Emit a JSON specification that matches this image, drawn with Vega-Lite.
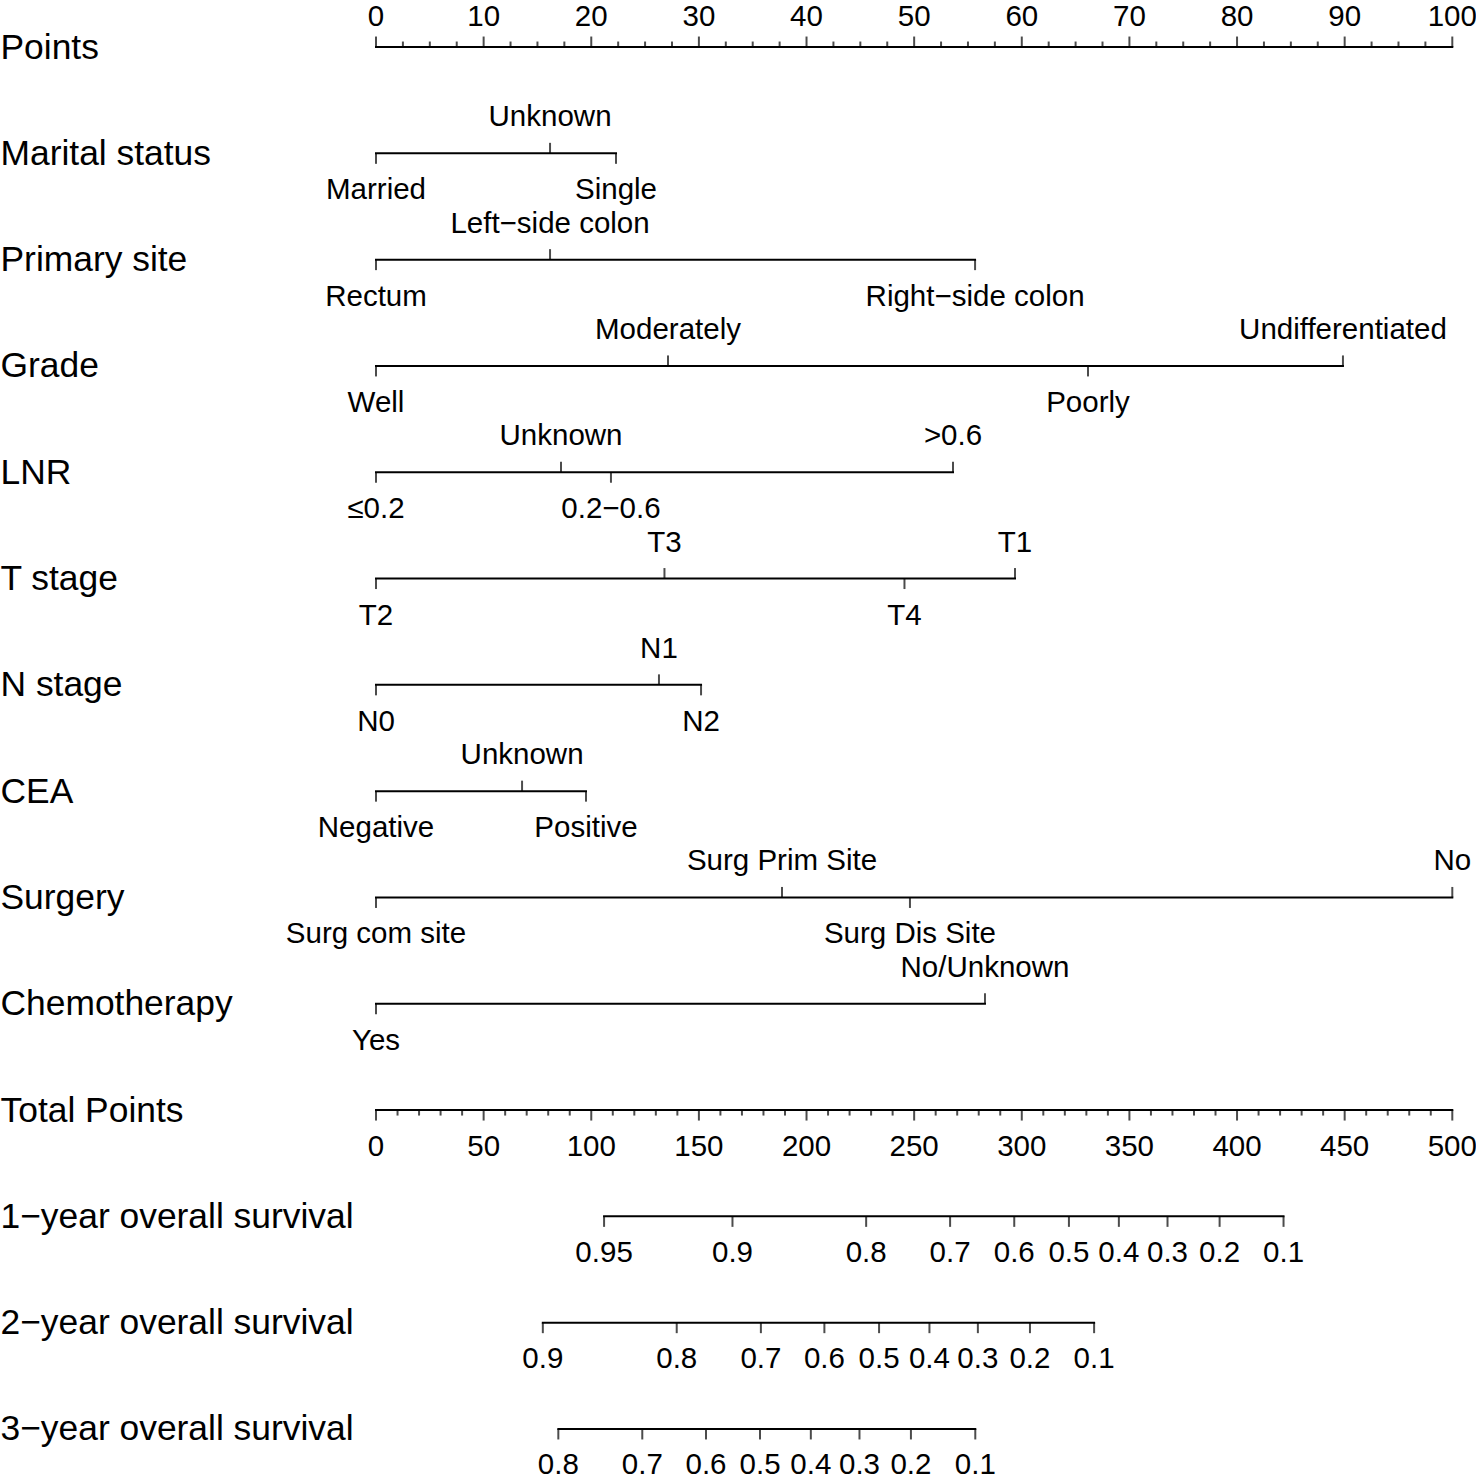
{
  "$schema": "https://vega.github.io/schema/vega-lite/v6.json",
  "width": 1476,
  "height": 1476,
  "autosize": {"type": "none"},
  "padding": 0,
  "background": "white",
  "config": {
    "view": {"stroke": null},
    "text": {"font": "Liberation Sans", "fontSize": 29.5, "color": "black"},
    "tick": {"color": "black"},
    "rule": {"color": "black"}
  },
  "datasets": {
    "cat": [
      {"var": "Marital status", "level": "Married", "pts": 0, "side": "below"},
      {"var": "Marital status", "level": "Unknown", "pts": 16.17, "side": "above"},
      {"var": "Marital status", "level": "Single", "pts": 22.3, "side": "below"},
      {"var": "Primary site", "level": "Rectum", "pts": 0, "side": "below"},
      {"var": "Primary site", "level": "Left−side colon", "pts": 16.17, "side": "above"},
      {"var": "Primary site", "level": "Right−side colon", "pts": 55.66, "side": "below"},
      {"var": "Grade", "level": "Well", "pts": 0, "side": "below"},
      {"var": "Grade", "level": "Moderately", "pts": 27.13, "side": "above"},
      {"var": "Grade", "level": "Poorly", "pts": 66.15, "side": "below"},
      {"var": "Grade", "level": "Undifferentiated", "pts": 89.84, "side": "above"},
      {"var": "LNR", "level": "≤0.2", "pts": 0, "side": "below"},
      {"var": "LNR", "level": "Unknown", "pts": 17.19, "side": "above"},
      {"var": "LNR", "level": "0.2−0.6", "pts": 21.83, "side": "below"},
      {"var": "LNR", "level": ">0.6", "pts": 53.61, "side": "above"},
      {"var": "T stage", "level": "T2", "pts": 0, "side": "below"},
      {"var": "T stage", "level": "T3", "pts": 26.8, "side": "above"},
      {"var": "T stage", "level": "T4", "pts": 49.1, "side": "below"},
      {"var": "T stage", "level": "T1", "pts": 59.37, "side": "above"},
      {"var": "N stage", "level": "N0", "pts": 0, "side": "below"},
      {"var": "N stage", "level": "N1", "pts": 26.29, "side": "above"},
      {"var": "N stage", "level": "N2", "pts": 30.2, "side": "below"},
      {"var": "CEA", "level": "Negative", "pts": 0, "side": "below"},
      {"var": "CEA", "level": "Unknown", "pts": 13.57, "side": "above"},
      {"var": "CEA", "level": "Positive", "pts": 19.51, "side": "below"},
      {"var": "Surgery", "level": "Surg com site", "pts": 0, "side": "below"},
      {"var": "Surgery", "level": "Surg Prim Site", "pts": 37.72, "side": "above"},
      {"var": "Surgery", "level": "Surg Dis Site", "pts": 49.61, "side": "below"},
      {"var": "Surgery", "level": "No", "pts": 100, "side": "above"},
      {"var": "Chemotherapy", "level": "Yes", "pts": 0, "side": "below"},
      {"var": "Chemotherapy", "level": "No/Unknown", "pts": 56.58, "side": "above"}
    ],
    "ptsAxis": [
      {"var": "Points", "pts": 0, "major": true}, {"var": "Points", "pts": 2.5, "major": false}, {"var": "Points", "pts": 5, "major": false}, {"var": "Points", "pts": 7.5, "major": false},
      {"var": "Points", "pts": 10, "major": true}, {"var": "Points", "pts": 12.5, "major": false}, {"var": "Points", "pts": 15, "major": false}, {"var": "Points", "pts": 17.5, "major": false},
      {"var": "Points", "pts": 20, "major": true}, {"var": "Points", "pts": 22.5, "major": false}, {"var": "Points", "pts": 25, "major": false}, {"var": "Points", "pts": 27.5, "major": false},
      {"var": "Points", "pts": 30, "major": true}, {"var": "Points", "pts": 32.5, "major": false}, {"var": "Points", "pts": 35, "major": false}, {"var": "Points", "pts": 37.5, "major": false},
      {"var": "Points", "pts": 40, "major": true}, {"var": "Points", "pts": 42.5, "major": false}, {"var": "Points", "pts": 45, "major": false}, {"var": "Points", "pts": 47.5, "major": false},
      {"var": "Points", "pts": 50, "major": true}, {"var": "Points", "pts": 52.5, "major": false}, {"var": "Points", "pts": 55, "major": false}, {"var": "Points", "pts": 57.5, "major": false},
      {"var": "Points", "pts": 60, "major": true}, {"var": "Points", "pts": 62.5, "major": false}, {"var": "Points", "pts": 65, "major": false}, {"var": "Points", "pts": 67.5, "major": false},
      {"var": "Points", "pts": 70, "major": true}, {"var": "Points", "pts": 72.5, "major": false}, {"var": "Points", "pts": 75, "major": false}, {"var": "Points", "pts": 77.5, "major": false},
      {"var": "Points", "pts": 80, "major": true}, {"var": "Points", "pts": 82.5, "major": false}, {"var": "Points", "pts": 85, "major": false}, {"var": "Points", "pts": 87.5, "major": false},
      {"var": "Points", "pts": 90, "major": true}, {"var": "Points", "pts": 92.5, "major": false}, {"var": "Points", "pts": 95, "major": false}, {"var": "Points", "pts": 97.5, "major": false},
      {"var": "Points", "pts": 100, "major": true}
    ],
    "totAxis": [
      {"var": "Total Points", "total": 0, "major": true}, {"var": "Total Points", "total": 10, "major": false}, {"var": "Total Points", "total": 20, "major": false}, {"var": "Total Points", "total": 30, "major": false}, {"var": "Total Points", "total": 40, "major": false},
      {"var": "Total Points", "total": 50, "major": true}, {"var": "Total Points", "total": 60, "major": false}, {"var": "Total Points", "total": 70, "major": false}, {"var": "Total Points", "total": 80, "major": false}, {"var": "Total Points", "total": 90, "major": false},
      {"var": "Total Points", "total": 100, "major": true}, {"var": "Total Points", "total": 110, "major": false}, {"var": "Total Points", "total": 120, "major": false}, {"var": "Total Points", "total": 130, "major": false}, {"var": "Total Points", "total": 140, "major": false},
      {"var": "Total Points", "total": 150, "major": true}, {"var": "Total Points", "total": 160, "major": false}, {"var": "Total Points", "total": 170, "major": false}, {"var": "Total Points", "total": 180, "major": false}, {"var": "Total Points", "total": 190, "major": false},
      {"var": "Total Points", "total": 200, "major": true}, {"var": "Total Points", "total": 210, "major": false}, {"var": "Total Points", "total": 220, "major": false}, {"var": "Total Points", "total": 230, "major": false}, {"var": "Total Points", "total": 240, "major": false},
      {"var": "Total Points", "total": 250, "major": true}, {"var": "Total Points", "total": 260, "major": false}, {"var": "Total Points", "total": 270, "major": false}, {"var": "Total Points", "total": 280, "major": false}, {"var": "Total Points", "total": 290, "major": false},
      {"var": "Total Points", "total": 300, "major": true}, {"var": "Total Points", "total": 310, "major": false}, {"var": "Total Points", "total": 320, "major": false}, {"var": "Total Points", "total": 330, "major": false}, {"var": "Total Points", "total": 340, "major": false},
      {"var": "Total Points", "total": 350, "major": true}, {"var": "Total Points", "total": 360, "major": false}, {"var": "Total Points", "total": 370, "major": false}, {"var": "Total Points", "total": 380, "major": false}, {"var": "Total Points", "total": 390, "major": false},
      {"var": "Total Points", "total": 400, "major": true}, {"var": "Total Points", "total": 410, "major": false}, {"var": "Total Points", "total": 420, "major": false}, {"var": "Total Points", "total": 430, "major": false}, {"var": "Total Points", "total": 440, "major": false},
      {"var": "Total Points", "total": 450, "major": true}, {"var": "Total Points", "total": 460, "major": false}, {"var": "Total Points", "total": 470, "major": false}, {"var": "Total Points", "total": 480, "major": false}, {"var": "Total Points", "total": 490, "major": false},
      {"var": "Total Points", "total": 500, "major": true}
    ],
    "surv": [
      {"var": "1−year overall survival", "lab": "0.95", "total": 105.95},
      {"var": "1−year overall survival", "lab": "0.9", "total": 165.6},
      {"var": "1−year overall survival", "lab": "0.8", "total": 227.7},
      {"var": "1−year overall survival", "lab": "0.7", "total": 266.7},
      {"var": "1−year overall survival", "lab": "0.6", "total": 296.5},
      {"var": "1−year overall survival", "lab": "0.5", "total": 321.9},
      {"var": "1−year overall survival", "lab": "0.4", "total": 345.1},
      {"var": "1−year overall survival", "lab": "0.3", "total": 367.7},
      {"var": "1−year overall survival", "lab": "0.2", "total": 391.9},
      {"var": "1−year overall survival", "lab": "0.1", "total": 421.6},
      {"var": "2−year overall survival", "lab": "0.9", "total": 77.5},
      {"var": "2−year overall survival", "lab": "0.8", "total": 139.7},
      {"var": "2−year overall survival", "lab": "0.7", "total": 178.8},
      {"var": "2−year overall survival", "lab": "0.6", "total": 208.3},
      {"var": "2−year overall survival", "lab": "0.5", "total": 233.7},
      {"var": "2−year overall survival", "lab": "0.4", "total": 257.1},
      {"var": "2−year overall survival", "lab": "0.3", "total": 279.6},
      {"var": "2−year overall survival", "lab": "0.2", "total": 303.8},
      {"var": "2−year overall survival", "lab": "0.1", "total": 333.6},
      {"var": "3−year overall survival", "lab": "0.8", "total": 84.7},
      {"var": "3−year overall survival", "lab": "0.7", "total": 123.7},
      {"var": "3−year overall survival", "lab": "0.6", "total": 153.3},
      {"var": "3−year overall survival", "lab": "0.5", "total": 178.4},
      {"var": "3−year overall survival", "lab": "0.4", "total": 202.0},
      {"var": "3−year overall survival", "lab": "0.3", "total": 224.6},
      {"var": "3−year overall survival", "lab": "0.2", "total": 248.5},
      {"var": "3−year overall survival", "lab": "0.1", "total": 278.4}
    ]
  },
  "encoding": {
    "y": {
      "field": "var",
      "type": "nominal",
      "scale": {
        "type": "point",
        "padding": 0.4424,
        "domain": ["Points", "Marital status", "Primary site", "Grade", "LNR", "T stage", "N stage", "CEA", "Surgery", "Chemotherapy", "Total Points", "1−year overall survival", "2−year overall survival", "3−year overall survival"]
      },
      "axis": {
        "title": null,
        "orient": "left",
        "ticks": false,
        "domain": false,
        "grid": false,
        "labelAlign": "left",
        "labelBaseline": "middle",
        "labelPadding": 0,
        "labelFont": "Liberation Sans",
        "labelFontSize": 35.4,
        "labelColor": "black",
        "labelLimit": 800,
        "labelOverlap": false
      }
    }
  },
  "layer": [
    {
      "data": {"name": "cat"},
      "transform": [{"aggregate": [{"op": "min", "field": "pts", "as": "lo"}, {"op": "max", "field": "pts", "as": "hi"}], "groupby": ["var"]}],
      "mark": {"type": "rule", "strokeWidth": 2, "strokeCap": "square"},
      "encoding": {
        "x": {"field": "lo", "type": "quantitative", "scale": {"domain": [-34.935, 102.202], "nice": false, "zero": false}, "axis": null},
        "x2": {"field": "hi"}
      }
    },
    {
      "data": {"name": "cat"},
      "transform": [{"filter": "datum.side == 'above'"}],
      "mark": {"type": "tick", "orient": "vertical", "size": 10.5, "thickness": 2, "yOffset": -5.25},
      "encoding": {
        "x": {"field": "pts", "type": "quantitative", "scale": {"domain": [-34.935, 102.202], "nice": false, "zero": false}, "axis": null}
      }
    },
    {
      "data": {"name": "cat"},
      "transform": [{"filter": "datum.side == 'below'"}],
      "mark": {"type": "tick", "orient": "vertical", "size": 10.5, "thickness": 2, "yOffset": 5.25},
      "encoding": {
        "x": {"field": "pts", "type": "quantitative", "scale": {"domain": [-34.935, 102.202], "nice": false, "zero": false}, "axis": null}
      }
    },
    {
      "data": {"name": "cat"},
      "transform": [{"filter": "datum.side == 'above'"}],
      "mark": {"type": "text", "baseline": "middle", "align": "center", "dy": -36},
      "encoding": {
        "x": {"field": "pts", "type": "quantitative", "scale": {"domain": [-34.935, 102.202], "nice": false, "zero": false}, "axis": null},
        "text": {"field": "level"}
      }
    },
    {
      "data": {"name": "cat"},
      "transform": [{"filter": "datum.side == 'below'"}],
      "mark": {"type": "text", "baseline": "middle", "align": "center", "dy": 37},
      "encoding": {
        "x": {"field": "pts", "type": "quantitative", "scale": {"domain": [-34.935, 102.202], "nice": false, "zero": false}, "axis": null},
        "text": {"field": "level"}
      }
    },
    {
      "data": {"name": "ptsAxis"},
      "transform": [{"aggregate": [{"op": "min", "field": "pts", "as": "lo"}, {"op": "max", "field": "pts", "as": "hi"}], "groupby": ["var"]}],
      "mark": {"type": "rule", "strokeWidth": 2, "strokeCap": "square"},
      "encoding": {
        "x": {"field": "lo", "type": "quantitative", "scale": {"domain": [-34.935, 102.202], "nice": false, "zero": false}, "axis": null},
        "x2": {"field": "hi"}
      }
    },
    {
      "data": {"name": "ptsAxis"},
      "transform": [{"filter": "datum.major"}],
      "mark": {"type": "tick", "orient": "vertical", "size": 10.5, "thickness": 2, "yOffset": -5.25},
      "encoding": {
        "x": {"field": "pts", "type": "quantitative", "scale": {"domain": [-34.935, 102.202], "nice": false, "zero": false}, "axis": null}
      }
    },
    {
      "data": {"name": "ptsAxis"},
      "transform": [{"filter": "!datum.major"}],
      "mark": {"type": "tick", "orient": "vertical", "size": 5.5, "thickness": 2, "yOffset": -2.75},
      "encoding": {
        "x": {"field": "pts", "type": "quantitative", "scale": {"domain": [-34.935, 102.202], "nice": false, "zero": false}, "axis": null}
      }
    },
    {
      "data": {"name": "ptsAxis"},
      "transform": [{"filter": "datum.major"}],
      "mark": {"type": "text", "baseline": "middle", "align": "center", "dy": -30.5},
      "encoding": {
        "x": {"field": "pts", "type": "quantitative", "scale": {"domain": [-34.935, 102.202], "nice": false, "zero": false}, "axis": null},
        "text": {"field": "pts", "type": "quantitative", "format": "d"}
      }
    },
    {
      "data": {"name": "totAxis"},
      "transform": [{"aggregate": [{"op": "min", "field": "total", "as": "lo"}, {"op": "max", "field": "total", "as": "hi"}], "groupby": ["var"]}],
      "mark": {"type": "rule", "strokeWidth": 2, "strokeCap": "square"},
      "encoding": {
        "x": {"field": "lo", "type": "quantitative", "scale": {"domain": [-174.675, 511.01], "nice": false, "zero": false}, "axis": null},
        "x2": {"field": "hi"}
      }
    },
    {
      "data": {"name": "totAxis"},
      "transform": [{"filter": "datum.major"}],
      "mark": {"type": "tick", "orient": "vertical", "size": 10.5, "thickness": 2, "yOffset": 5.25},
      "encoding": {
        "x": {"field": "total", "type": "quantitative", "scale": {"domain": [-174.675, 511.01], "nice": false, "zero": false}, "axis": null}
      }
    },
    {
      "data": {"name": "totAxis"},
      "transform": [{"filter": "!datum.major"}],
      "mark": {"type": "tick", "orient": "vertical", "size": 5.5, "thickness": 2, "yOffset": 2.75},
      "encoding": {
        "x": {"field": "total", "type": "quantitative", "scale": {"domain": [-174.675, 511.01], "nice": false, "zero": false}, "axis": null}
      }
    },
    {
      "data": {"name": "totAxis"},
      "transform": [{"filter": "datum.major"}],
      "mark": {"type": "text", "baseline": "middle", "align": "center", "dy": 37},
      "encoding": {
        "x": {"field": "total", "type": "quantitative", "scale": {"domain": [-174.675, 511.01], "nice": false, "zero": false}, "axis": null},
        "text": {"field": "total", "type": "quantitative", "format": "d"}
      }
    },
    {
      "data": {"name": "surv"},
      "transform": [{"aggregate": [{"op": "min", "field": "total", "as": "lo"}, {"op": "max", "field": "total", "as": "hi"}], "groupby": ["var"]}],
      "mark": {"type": "rule", "strokeWidth": 2, "strokeCap": "square"},
      "encoding": {
        "x": {"field": "lo", "type": "quantitative", "scale": {"domain": [-174.675, 511.01], "nice": false, "zero": false}, "axis": null},
        "x2": {"field": "hi"}
      }
    },
    {
      "data": {"name": "surv"},
      "mark": {"type": "tick", "orient": "vertical", "size": 10.5, "thickness": 2, "yOffset": 5.25},
      "encoding": {
        "x": {"field": "total", "type": "quantitative", "scale": {"domain": [-174.675, 511.01], "nice": false, "zero": false}, "axis": null}
      }
    },
    {
      "data": {"name": "surv"},
      "mark": {"type": "text", "baseline": "middle", "align": "center", "dy": 36.5},
      "encoding": {
        "x": {"field": "total", "type": "quantitative", "scale": {"domain": [-174.675, 511.01], "nice": false, "zero": false}, "axis": null},
        "text": {"field": "lab"}
      }
    }
  ],
  "resolve": {"scale": {"x": "independent"}, "axis": {"x": "independent"}}
}
